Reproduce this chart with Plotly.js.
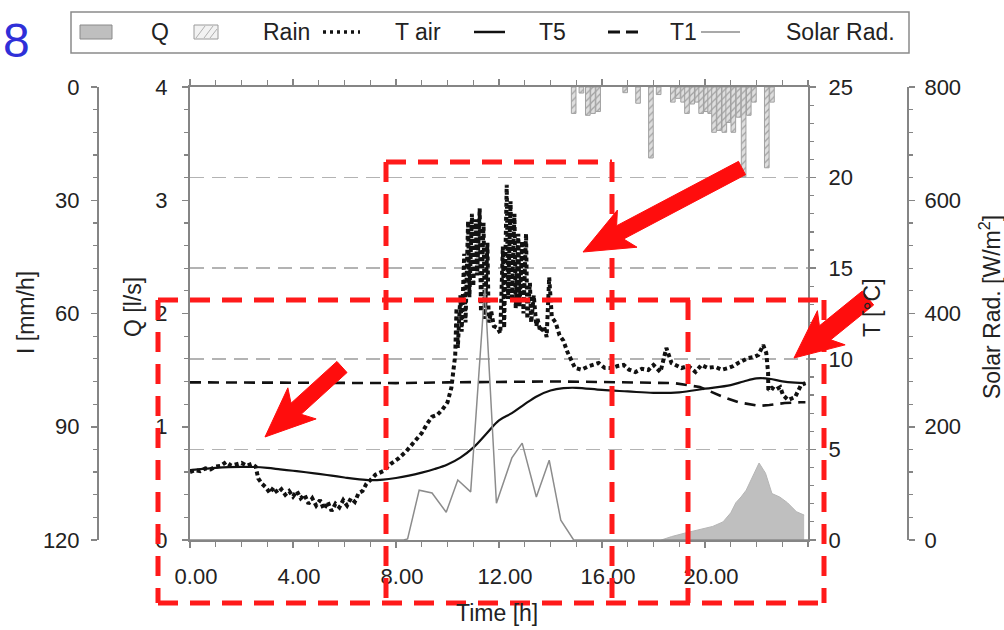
<!DOCTYPE html>
<html>
<head>
<meta charset="utf-8">
<script src="https://cdn.plot.ly/plotly-3.0.1.min.js"></script>
<style>html,body{margin:0;padding:0;background:#fff;}#chart{width:1004px;height:630px;}</style>
</head>
<body>
<div id="chart"></div>
<script>
// ---------------- data ----------------
const xTickVals = [0, 4, 8, 12, 16, 20];
const xTickText = ['0.00', '4.00', '8.00', '12.00', '16.00', '20.00'];

// Rain intensity I [mm/h] (hatched bars hanging from the top)
const rainTime = [14.9,15.2,15.45,15.65,15.85,16.9,17.4,17.9,18.2,18.75,18.95,19.15,19.3,19.5,19.7,19.85,20.05,20.2,20.35,20.55,20.75,20.9,21.1,21.3,21.5,21.7,21.9,22.4,22.6];
const rainVal  = [7,1.6,7.5,7,6.5,1.5,4.3,18.8,2,4,3,4,7,4.5,4,7,6.5,7,12,11.5,12,9.4,12,8,23.8,7.5,4,21.4,4];

// Discharge Q [l/s] (grey area)
const qTime = [18.3,18.7,19.2,19.8,20.3,20.7,21.0,21.2,21.4,21.6,21.85,22.1,22.35,22.6,22.9,23.2,23.55,23.85];
const qVal  = [0,0.03,0.06,0.09,0.12,0.16,0.24,0.33,0.38,0.44,0.56,0.68,0.59,0.41,0.38,0.33,0.25,0.22];

// Solar radiation [W/m2] (thin grey line)
const solarTime = [0,8.3,8.45,8.9,9.4,9.95,10.4,10.9,11.45,11.9,12.5,12.9,13.45,13.95,14.4,14.9,24];
const solarVal  = [0,0,2,88,83,49,106,85,445,65,145,171,76,141,35,0,0];

// Air temperature [°C] (dotted)
const tairTime = [0,0.2,0.4,0.6,0.8,1.0,1.2,1.4,1.6,1.8,2.0,2.2,2.4,2.55,
  2.65,2.8,2.95,3.1,3.25,3.4,3.55,3.7,3.85,4.0,4.15,4.3,4.45,4.6,4.75,4.9,5.05,5.2,5.35,5.5,5.65,5.8,5.95,6.1,6.25,6.4,6.55,6.7,6.85,7.0,
  7.2,7.5,7.8,8.1,8.4,8.7,9.0,9.2,9.4,9.6,9.8,10.0,10.15,
  10.3,10.35,10.4,10.5,10.55,10.65,10.7,10.8,10.85,10.95,11.0,11.1,11.15,11.25,11.3,11.4,11.45,11.55,11.6,11.7,11.8,11.95,12.05,
  12.15,12.2,12.3,12.35,12.45,12.5,12.6,12.65,12.75,12.8,12.9,12.95,13.05,13.1,13.2,13.25,13.35,13.45,
  13.5,13.6,13.75,13.85,13.95,14.05,14.2,14.35,14.5,14.65,14.8,14.95,
  15.2,15.5,15.87,16.1,16.38,16.6,16.84,17.05,17.3,17.55,17.8,18.0,18.27,18.5,18.7,19.09,19.35,19.63,19.86,20.1,20.4,20.65,20.9,21.1,21.29,21.5,21.68,21.9,22.07,22.26,22.38,22.45,22.46,22.6,22.72,22.92,23.03,23.23,23.5,23.73,23.9];
const tairTemp = [3.75,3.85,3.8,3.95,3.9,4.05,4.1,4.3,4.1,4.2,4.25,4.1,4.2,4.05,
  3.4,3.1,2.9,2.6,2.9,2.6,2.8,2.5,2.7,2.4,2.7,2.3,2.5,2.0,2.3,1.9,2.2,1.7,2.1,1.6,2.0,1.8,2.2,1.9,2.3,2.1,2.6,2.7,3.1,3.3,
  3.6,3.8,4.2,4.5,4.9,5.4,5.9,6.4,6.8,6.9,7.2,7.6,8.4,
  10.2,12.8,10.6,13.5,11.5,15.8,12.0,17.6,13.4,18.0,14.0,17.7,14.6,18.3,12.6,17.5,12.2,16.4,12.0,12.6,11.8,11.7,11.4,
  16.2,11.7,19.6,13.3,18.7,13.2,18.0,12.8,16.9,12.9,16.5,12.5,16.9,12.2,14.2,12.0,13.5,11.8,
  12.2,11.5,11.8,11.2,14.5,12.3,12.0,11.3,11.0,10.4,10.0,9.5,
  9.4,9.6,9.77,9.5,9.49,9.6,9.66,9.4,9.27,9.45,9.38,9.66,9.27,10.6,9.77,9.49,9.6,9.27,9.66,9.5,9.55,9.4,9.49,9.6,9.77,9.9,10.04,10.1,10.21,10.76,10.32,9.22,8.28,8.4,8.28,8.44,8.0,7.73,7.89,8.55,8.66];

// Soil temperature at 5 cm (solid)
const t5Time = [0,0.5,1,1.5,2,2.5,3,3.5,4,4.5,5,5.5,6,6.5,7,7.5,8,8.5,9,9.5,10,10.5,11,11.5,12,12.5,13,13.5,14,14.5,15,16,17,18,19,20,21,21.5,22,22.5,23,23.5,23.9];
const t5Temp = [3.86,3.92,3.98,4.02,4.04,4.03,3.98,3.9,3.82,3.74,3.65,3.55,3.45,3.36,3.3,3.33,3.42,3.55,3.72,3.92,4.17,4.55,5.1,5.85,6.6,7.0,7.5,7.95,8.25,8.38,8.4,8.28,8.2,8.12,8.15,8.35,8.55,8.75,8.92,8.9,8.75,8.68,8.66];

// Soil temperature at 1 cm (dashed)
const t1Time = [0,2,4,6,8,10,12,14,16,18,18.8,19.8,20.7,21.3,22.1,22.5,23.1,23.7,23.9];
const t1Temp = [8.7,8.68,8.66,8.65,8.66,8.7,8.74,8.75,8.72,8.7,8.66,8.44,7.9,7.6,7.4,7.45,7.56,7.6,7.6];

// ---------------- page geometry helpers ----------------
const W = 1004, H = 630;
const PX = p => p / W;
const PY = p => 1 - p / H;
const FONT = 'Liberation Sans, Arial, Helvetica, sans-serif';
const AX = '#858585';
const TXT = '#222';

const plotL = 190, plotR = 808, plotT = 87, plotB = 540;

const traces = [
  { type: 'scatter', x: qTime, y: qVal, yaxis: 'y', mode: 'lines', fill: 'tozeroy',
    fillcolor: '#bfbfbf', line: { color: '#b5b5b5', width: 1 }, showlegend: false, hoverinfo: 'skip' },
  { type: 'bar', x: rainTime, y: rainVal, yaxis: 'y2', width: 0.18,
    marker: { color: '#d6d6d6', line: { color: '#a0a0a0', width: 1 },
      pattern: { shape: '/', fgcolor: '#a0a0a0', bgcolor: '#dedede', size: 5, solidity: 0.25 } },
    showlegend: false, hoverinfo: 'skip' },
  { type: 'scatter', x: solarTime, y: solarVal, yaxis: 'y4', mode: 'lines',
    line: { color: '#8c8c8c', width: 1.5 }, showlegend: false, hoverinfo: 'skip' },
  { type: 'scatter', x: t5Time, y: t5Temp, yaxis: 'y3', mode: 'lines',
    line: { color: '#111', width: 2.2, shape: 'spline' }, showlegend: false, hoverinfo: 'skip' },
  { type: 'scatter', x: t1Time, y: t1Temp, yaxis: 'y3', mode: 'lines',
    line: { color: '#111', width: 2.6, dash: '11px,7px' }, showlegend: false, hoverinfo: 'skip' },
  { type: 'scatter', x: tairTime, y: tairTemp, yaxis: 'y3', mode: 'lines',
    line: { color: '#111', width: 4, dash: '4px,3px' }, showlegend: false, hoverinfo: 'skip' }
];

const tickFont = { family: FONT, size: 22, color: TXT };
const baseY = {
  domain: [PY(plotB), PY(plotT)], showline: true, linecolor: AX, linewidth: 2,
  ticks: 'outside', ticklen: 6, tickcolor: AX, tickwidth: 1.5, tickfont: tickFont,
  showgrid: false, zeroline: false, fixedrange: true
};

const shapes = [];
const annotations = [];

// red dashed frames
const redSegs = [[158,300,826,300],[158,603,826,603],[158,300,158,603],[386,162,386,603],[612,162,612,603],[688,300,688,603],[824,300,824,603],[386,162,612,162]];
redSegs.forEach(s => shapes.push({ type: 'line', xref: 'paper', yref: 'paper', layer: 'above',
  x0: PX(s[0]), y0: PY(s[1]), x1: PX(s[2]), y1: PY(s[3]),
  line: { color: '#ff1a1a', width: 5, dash: '20px,12px' } }));

// red arrows
function arrow(tx, ty, px, py, w, h, L) {
  const dx = px - tx, dy = py - ty, len = Math.hypot(dx, dy);
  const ux = dx / len, uy = dy / len, nx = -uy, ny = ux;
  const bx = px - ux * L, by = py - uy * L;
  const pts = [
    [tx + nx * w, ty + ny * w], [bx + nx * w, by + ny * w], [bx - ux * 8 + nx * h, by - uy * 8 + ny * h],
    [px, py], [bx - ux * 8 - nx * h, by - uy * 8 - ny * h], [bx - nx * w, by - ny * w], [tx - nx * w, ty - ny * w]
  ];
  const d = 'M ' + pts.map(p => PX(p[0]).toFixed(5) + ',' + PY(p[1]).toFixed(5)).join(' L ') + ' Z';
  shapes.push({ type: 'path', xref: 'paper', yref: 'paper', layer: 'above', path: d,
    fillcolor: '#ff0d0d', line: { color: '#ff0d0d', width: 1 } });
}
arrow(742, 168, 583, 252, 7.5, 21, 42);
arrow(868, 298, 794, 358, 9, 22, 40);
arrow(342, 367, 265, 437, 7.5, 21, 42);

// legend (drawn)
shapes.push({ type: 'rect', xref: 'paper', yref: 'paper', x0: PX(71), y0: PY(53), x1: PX(909), y1: PY(12),
  line: { color: '#8a8a8a', width: 1.5 }, fillcolor: 'rgba(0,0,0,0)' });
shapes.push({ type: 'rect', xref: 'paper', yref: 'paper', x0: PX(80), y0: PY(39), x1: PX(112), y1: PY(25),
  line: { color: '#8a8a8a', width: 1 }, fillcolor: '#bfbfbf' });
shapes.push({ type: 'rect', xref: 'paper', yref: 'paper', x0: PX(194), y0: PY(39), x1: PX(218), y1: PY(25),
  line: { color: '#9a9a9a', width: 1 }, fillcolor: '#f2f2f2' });
[[196,38,205,26],[204,38,213,26],[210,38,217,29]].forEach(s => shapes.push({ type: 'line', xref: 'paper', yref: 'paper',
  x0: PX(s[0]), y0: PY(s[1]), x1: PX(s[2]), y1: PY(s[3]), line: { color: '#b0b0b0', width: 1 } }));
shapes.push({ type: 'line', xref: 'paper', yref: 'paper', x0: PX(323), y0: PY(32), x1: PX(360), y1: PY(32),
  line: { color: '#111', width: 3.5, dash: '3px,4px' } });
shapes.push({ type: 'line', xref: 'paper', yref: 'paper', x0: PX(474), y0: PY(32), x1: PX(505), y1: PY(32),
  line: { color: '#111', width: 2.5 } });
shapes.push({ type: 'line', xref: 'paper', yref: 'paper', x0: PX(608), y0: PY(32), x1: PX(643), y1: PY(32),
  line: { color: '#111', width: 3, dash: '12px,6px' } });
shapes.push({ type: 'line', xref: 'paper', yref: 'paper', x0: PX(701), y0: PY(32), x1: PX(740), y1: PY(32),
  line: { color: '#8c8c8c', width: 1.5 } });

function txt(text, x, y, size, opts) {
  annotations.push(Object.assign({ text: text, xref: 'paper', yref: 'paper', x: PX(x), y: PY(y),
    showarrow: false, xanchor: 'center', yanchor: 'middle',
    font: { family: FONT, size: size, color: TXT } }, opts || {}));
}
txt('Q', 160, 32, 23);
txt('Rain', 286, 32, 23);
txt('T air', 418, 32, 23);
txt('T5', 552, 32, 23);
txt('T1', 683, 32, 23);
txt('Solar Rad.', 840, 32, 23);

// axis titles
txt('I [mm/h]', 26, 313, 23, { textangle: -90 });
txt('Q [l/s]', 133, 307, 23, { textangle: -90 });
txt('T [°C]', 872, 308, 23, { textangle: -90 });
txt('Solar Rad. [W/m<sup>2</sup>]', 990, 307, 23, { textangle: -90 });
txt('Time [h]', 497, 613, 23);

// blue panel number
txt('8', 16, 40, 48, { font: { family: FONT, size: 48, color: '#2f2fd8' } });

const layout = {
  width: W, height: H,
  margin: { l: 0, r: 0, t: 0, b: 0, pad: 0 },
  paper_bgcolor: '#fff', plot_bgcolor: '#fff',
  showlegend: false,
  xaxis: {
    domain: [PX(plotL), PX(plotR)], range: [0, 24], anchor: 'y',
    tickvals: xTickVals, ticktext: xTickText, tickfont: tickFont,
    showline: true, linecolor: AX, linewidth: 2, mirror: 'ticks',
    ticks: 'outside', ticklen: 6, tickcolor: AX, tickwidth: 1.5,
    minor: { dtick: 1, ticks: 'outside', ticklen: 5, tickcolor: AX, tickwidth: 1.2 },
    ticklabelstandoff: 10, ticklabelshift: 6,
    showgrid: false, zeroline: false, fixedrange: true
  },
  yaxis: Object.assign({}, baseY, {
    range: [0, 4], tickvals: [0, 1, 2, 3, 4], anchor: 'x', side: 'left', ticklabelstandoff: 10,
    minor: { dtick: 0.2, ticks: 'outside', ticklen: 4, tickcolor: AX, tickwidth: 1.2 }
  }),
  yaxis2: Object.assign({}, baseY, {
    range: [120, 0], tickvals: [0, 30, 60, 90, 120], overlaying: 'y', anchor: 'free',
    position: PX(98), side: 'left', ticklabelstandoff: 7,
    minor: { dtick: 6, ticks: 'outside', ticklen: 4, tickcolor: AX, tickwidth: 1.2 }
  }),
  yaxis3: Object.assign({}, baseY, {
    range: [0, 25], tickvals: [0, 5, 10, 15, 20, 25], overlaying: 'y', anchor: 'x', side: 'right',
    ticklabelstandoff: 8,
    showgrid: true, gridcolor: '#b3b3b3', gridwidth: 1.5, griddash: '14px,8px',
    minor: { dtick: 1, ticks: 'outside', ticklen: 4, tickcolor: AX, tickwidth: 1.2 }
  }),
  yaxis4: Object.assign({}, baseY, {
    range: [0, 800], tickvals: [0, 200, 400, 600, 800], overlaying: 'y', anchor: 'free',
    position: PX(908), side: 'right', ticklabelstandoff: 5,
    minor: { dtick: 40, ticks: 'outside', ticklen: 4, tickcolor: AX, tickwidth: 1.2 }
  }),
  shapes: shapes,
  annotations: annotations
};

Plotly.newPlot('chart', traces, layout, { displayModeBar: false, staticPlot: true });
</script>
</body>
</html>
